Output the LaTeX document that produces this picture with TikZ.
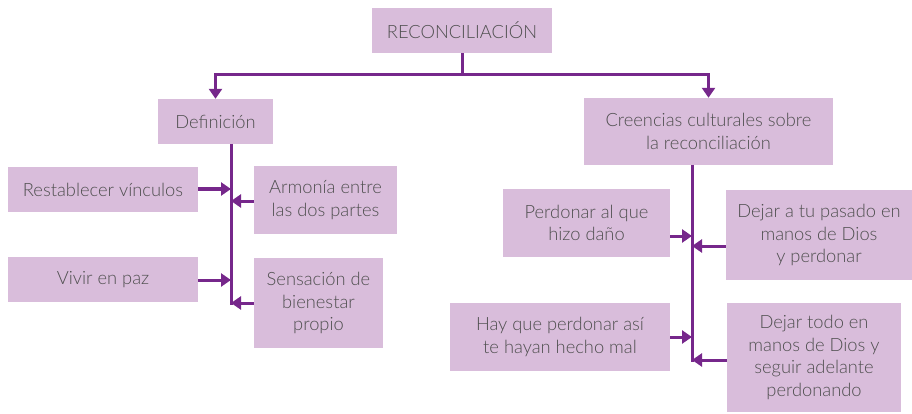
\documentclass[tikz,border=0pt]{standalone}
\usepackage{fontspec}
\setmainfont{Lato Light}
\usetikzlibrary{arrows.meta}
\definecolor{boxfill}{HTML}{D9BDDB}
\definecolor{linecol}{HTML}{76278B}
\definecolor{txt}{HTML}{4F4F4F}
\begin{document}
\begin{tikzpicture}[x=1pt,y=-1pt,
  box/.style={fill=boxfill,draw=none,inner sep=0pt,align=center,text=txt,font=\fontsize{18.3}{22.5}\selectfont},
  conn/.style={draw=linecol,line width=3pt},
  arr/.style={conn,-{Triangle[length=10pt,width=13pt]}}]
\useasboundingbox (0,0) rectangle (912,414);
\node[box,minimum width=180,minimum height=45] (rec) at (462,30.5) {RECONCILIACIÓN};
\node[box,minimum width=115,minimum height=45] (def) at (215.5,121.5) {Definición};
\node[box,minimum width=249,minimum height=67] (cre) at (708.5,131.5) {Creencias culturales sobre\\la reconciliación};
\node[box,minimum width=190,minimum height=45] (res) at (103,189.5) {Restablecer vínculos};
\node[box,minimum width=143,minimum height=68] (arm) at (325.5,200) {Armonía entre\\las dos partes};
\node[box,minimum width=190,minimum height=45] (viv) at (103,279.5) {Vivir en paz};
\node[box,minimum width=129,minimum height=90] (sen) at (318.5,303) {Sensación de\\bienestar\\propio};
\node[box,minimum width=167,minimum height=68] (per) at (586.5,223) {Perdonar al que\\hizo daño};
\node[box,minimum width=186,minimum height=90] (dej) at (819,235) {Dejar a tu pasado en\\manos de Dios\\y perdonar};
\node[box,minimum width=220,minimum height=68] (hay) at (560,337) {Hay que perdonar así\\te hayan hecho mal};
\node[box,minimum width=174,minimum height=109] (tod) at (814,357.5) {Dejar todo en\\manos de Dios y\\seguir adelante\\perdonando};
% top tree
\coordinate (j) at (462,75);
\draw[conn] (rec.south) -- (j);
\draw[arr] (j) -| (def.north);
\draw[arr] (j) -| (cre.north);
% definition spine
\coordinate (ds) at (231,144);
\coordinate (de) at (231,304.5);
\draw[conn] (ds) -- (de);
\draw[arr] (res.east |- 0,189) -- (231,189);
\draw[arr] (arm.west |- 0,201) -- (231,201);
\draw[arr] (viv.east |- 0,280) -- (231,280);
\draw[arr] (sen.west |- 0,303) -- (231,303);
% beliefs spine
\coordinate (cs) at (692,165);
\coordinate (ce) at (692,361.5);
\draw[conn] (cs) -- (ce);
\draw[arr] (per.east |- 0,236) -- (692,236);
\draw[arr] (dej.west |- 0,246) -- (692,246);
\draw[arr] (hay.east |- 0,337) -- (692,337);
\draw[arr] (tod.west |- 0,360) -- (692,360);
\end{tikzpicture}
\end{document}
